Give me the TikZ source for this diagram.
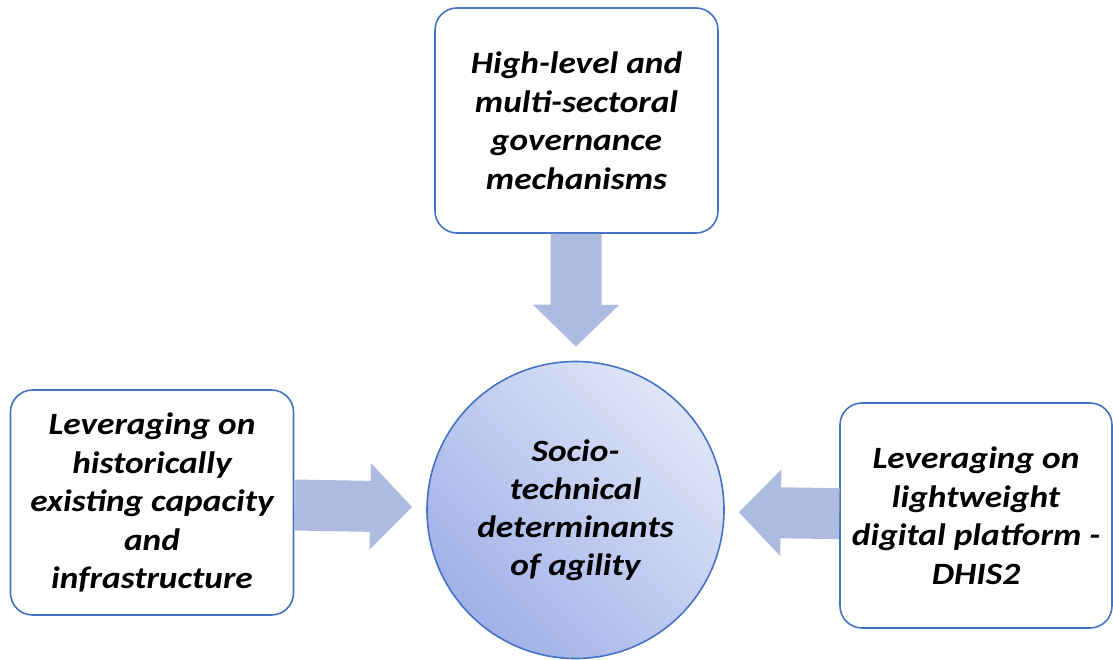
\documentclass[tikz,border=0pt]{standalone}
\usepackage{fontspec}
\setmainfont{Carlito}[FakeStretch=1.14]
\usetikzlibrary{arrows.meta}
\definecolor{boxblue}{RGB}{68,114,196}
\definecolor{arrowblue}{RGB}{174,187,224}
\definecolor{circdark}{RGB}{160,177,232}
\definecolor{circlight}{RGB}{223,229,247}

\begin{document}
\begin{tikzpicture}[x=1pt,y=-1pt,
    factor/.style={draw=boxblue, line width=1.6pt, rounded corners=22pt, fill=white,
      minimum width=283pt, minimum height=225pt, inner sep=0pt, align=center,
      font=\fontsize{31}{38.5}\selectfont\bfseries\itshape},
    core/.style={circle, draw=boxblue, line width=1.6pt, minimum size=297pt, inner sep=0pt,
      align=center, top color=circlight, bottom color=circdark, shading angle=-45,
      font=\fontsize{31}{38}\selectfont\bfseries\itshape},
    push/.style={draw=arrowblue, line width=51pt, shorten >=14pt,
      -{Triangle[length=42pt,width=84pt]}}]
  \useasboundingbox (0,0) rectangle (1113,660);
  \node[factor] (gov) at (576.5,120.5) {High-level and\\multi-sectoral\\governance\\mechanisms};
  \node[factor] (hist) at (152,502.5) {Leveraging on\\historically\\existing capacity\\and\\infrastructure};
  \node[factor, minimum width=272pt] (dhis) at (976,515.5) {Leveraging on\\lightweight\\digital platform -\\DHIS2};
  \node[core] (det) at (575.5,510) {Socio-\\technical\\determinants\\of agility};
  \draw[push] (gov) -- (det);
  \draw[push] (hist) -- (det);
  \draw[push] (dhis) -- (det);
\end{tikzpicture}
\end{document}
